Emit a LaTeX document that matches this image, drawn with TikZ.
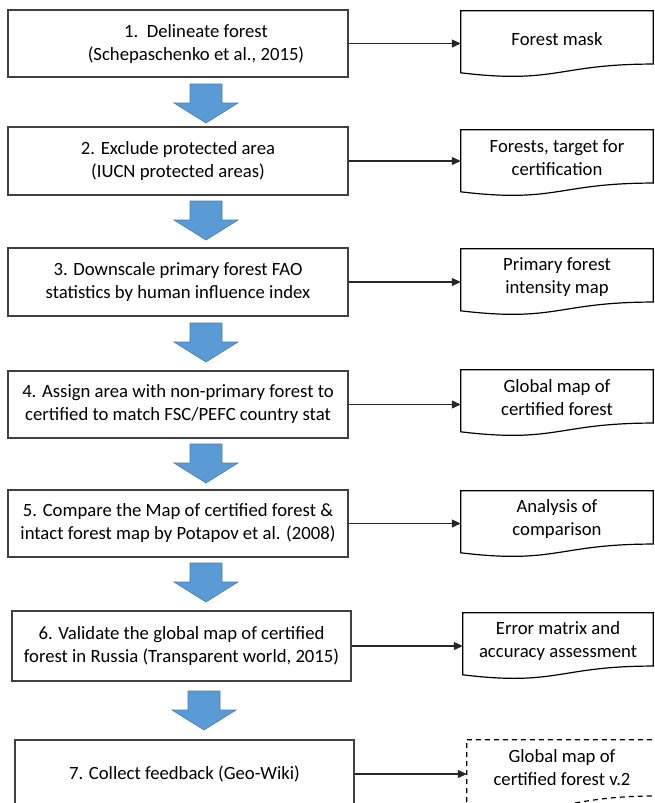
\documentclass[tikz,border=0pt]{standalone}
\usepackage{fontspec}
\setmainfont{Carlito}
\usetikzlibrary{arrows.meta,calc}
\definecolor{arrowblue}{RGB}{91,155,213}
\definecolor{arrowedge}{RGB}{70,125,175}
\newcommand\docpath[3]{\draw[#1] (#2.north west) -- (#2.north east) -- ([yshift={-0.802*#3pt}]#2.north east) .. controls ([yshift={-0.802*#3pt}]#2.north) and ([yshift={-1.107*#3pt}]#2.north) .. ([yshift={-0.934*#3pt}]#2.north west) -- cycle;}
\tikzset{
  every node/.append style={font=\fontsize{18.7}{23}\selectfont},
  box/.style={draw=black!75, line width=1.15pt, minimum width=340pt, minimum height=67pt, align=center, inner sep=0pt},
  txt/.style={align=center, inner sep=0pt},
  docn/.style={minimum height=56pt, minimum width=192pt, align=center, inner sep=0pt},
  docline/.style={draw=black, line width=1.2pt},
  conn/.style={draw=black!85, line width=1.1pt, -{Triangle[length=9pt,width=8pt]}},
  barrow/.style={fill=arrowblue, draw=arrowedge, line width=0.6pt},
  blockarrow/.pic={\path[barrow] (-16,0) -- (16,0) -- (16,19) -- (32,19) -- (0,39) -- (-32,19) -- (-16,19) -- cycle;}
}
\begin{document}
\begin{tikzpicture}[x=1pt,y=-1pt]
\useasboundingbox (0,0) rectangle (654,803);
\clip (0,0) rectangle (654,803);
\fill[white] (0,0) rectangle (654,803);
% process boxes
\node[box, minimum height=67pt] (b1) at (178,43.5) {};
\node[txt] (t1) at (196,44) {1.\ \ Delineate forest\\(Schepaschenko et al., 2015)};
\node[box, minimum height=68pt] (b2) at (178,161) {2. Exclude protected area\\(IUCN protected areas)};
\node[box, minimum height=68pt] (b3) at (178,282) {3. Downscale primary forest FAO\\statistics by human influence index};
\node[box, minimum height=67pt] (b4) at (178,404.5) {4. Assign area with non-primary forest to\\certified to match FSC/PEFC country stat};
\node[box, minimum height=67pt] (b5) at (178,523.5) {5. Compare the Map of certified forest \&\\intact forest map by Potapov et al. (2008)};
\node[box, minimum height=70pt, minimum width=339pt] (b6) at (181.5,646) {6. Validate the global map of certified\\forest in Russia (Transparent world, 2015)};
\node[box, minimum height=68pt, minimum width=339pt] (b7) at (184.5,774) {7. Collect feedback (Geo-Wiki)};
% block arrows
\pic at (206,84) {blockarrow};
\pic at (206,201) {blockarrow};
\pic at (206,323) {blockarrow};
\pic at (206,444) {blockarrow};
\pic at (206,563) {blockarrow};
\pic at (204,691) {blockarrow};
% documents
\node[docn] (d1) at (557,39) {Forest mask};
\node[docn] (d2) at (557,158) {Forests, target for\\certification};
\node[docn] (d3) at (557,277) {Primary forest\\intensity map};
\node[docn] (d4) at (557,398) {Global map of\\certified forest};
\node[docn] (d5) at (557,519) {Analysis of\\comparison};
\node[docn, minimum width=190pt] (d6) at (558,641) {Error matrix and\\accuracy assessment};
\node[docn, minimum width=190pt] (d7) at (562,768) {Global map of\\certified forest v.2};
\docpath{docline}{d1}{66.4}
\docpath{docline}{d2}{66.4}
\docpath{docline}{d3}{66.4}
\docpath{docline}{d4}{66.4}
\docpath{docline}{d5}{66.4}
\docpath{docline}{d6}{66.4}
\docpath{docline, dash pattern=on 5pt off 4pt}{d7}{70}
% connectors
\draw[conn] (b1.east) -- (b1.east -| d1.west);
\draw[conn] (b2.east) -- (b2.east -| d2.west);
\draw[conn] (b3.east) -- (b3.east -| d3.west);
\draw[conn] (b4.east) -- (b4.east -| d4.west);
\draw[conn] (b5.east) -- (b5.east -| d5.west);
\draw[conn] (b6.east) -- (b6.east -| d6.west);
\draw[conn] (b7.east) -- (b7.east -| d7.west);
\end{tikzpicture}
\end{document}
